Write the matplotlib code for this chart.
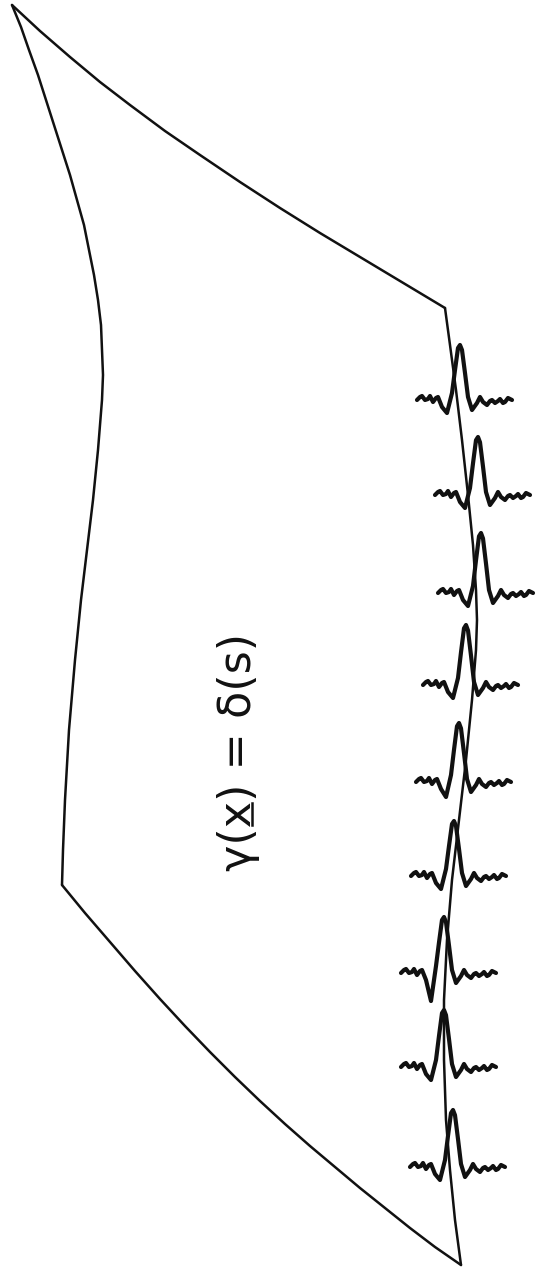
import matplotlib
matplotlib.use("Agg")
import matplotlib.pyplot as plt

# outline of the sheet in pixel coordinates (x right, y down)
top_x = [12, 40, 70, 100, 130, 165, 200, 240, 280, 320, 360, 400, 445]
top_y = [5, 31, 57, 82, 105, 131, 155, 182, 208, 233, 257, 281, 308]

left_x = [12, 21, 29, 38, 46, 54, 62, 70, 77, 84, 89, 94, 98, 101, 102, 103, 102, 98, 93, 87, 81, 75, 69, 65, 63, 62]
left_y = [5, 27, 50, 75, 100, 125, 150, 175, 200, 225, 250, 275, 300, 325, 350, 375, 400, 450, 500, 550, 600, 660, 730, 800, 850, 885]

right_x = [445, 450, 456, 462, 468, 473, 476, 477, 476, 472, 466, 459, 452, 447, 444, 444, 446, 450, 455, 461]
right_y = [308, 345, 390, 440, 495, 545, 590, 620, 650, 700, 760, 820, 880, 940, 1000, 1060, 1120, 1170, 1220, 1265]

bottom_x = [62, 85, 110, 135, 160, 185, 210, 235, 260, 285, 310, 335, 360, 385, 410, 435, 461]
bottom_y = [885, 913, 942, 971, 999, 1026, 1052, 1077, 1101, 1124, 1146, 1167, 1188, 1208, 1228, 1247, 1265]

# traces along the right edge: peak position, baseline and peak height
trace_peak_x = [459, 477, 480, 465, 458, 453, 443, 443, 452]
trace_base_y = [400, 495, 593, 685, 782, 876, 973, 1067, 1167]
trace_height = [55, 58, 60, 60, 59, 55, 56, 57, 57]
trace_trough = [0, 0, 0, 0, 2, 0, 15, 0, 0]

# wavelet shape (offsets from peak foot, peak = -55)
wave_dx = [-42, -39, -37, -34, -31, -29, -26, -23, -21, -17, -12, -7, -4, -1, 1, 3, 6, 9,
           13, 18, 21, 24, 28, 31, 33, 36, 39, 41, 44, 46, 49, 53]
wave_dy = [0, -3, -4, 0, -1, -4, 2, -2, -3, 7, 13, -7, -30, -52, -55, -50, -27, -3,
           10, 3, -3, 2, 5, 1, 0, 3, 1, -1, 3, 2, -2, 0]

label = "γ(x) = δ(s)"

fig = plt.figure(figsize=(5.37, 12.74), dpi=100)
ax = fig.add_axes([0, 0, 1, 1])
ax.set_xlim(0, 537)
ax.set_ylim(1274, 0)
ax.axis("off")

ink = "#111111"
for xs, ys in [(top_x, top_y), (left_x, left_y), (right_x, right_y), (bottom_x, bottom_y)]:
    ax.plot(xs, ys, color=ink, lw=1.8, solid_joinstyle="round", solid_capstyle="round")

for px, by, h, tr in zip(trace_peak_x, trace_base_y, trace_height, trace_trough):
    xs = [px + dx for dx in wave_dx]
    ys = []
    for dx, dy in zip(wave_dx, wave_dy):
        if dy < -15:
            dy = dy * h / 55.0
        elif -16 < dx < -6 and dy > 0:
            dy = dy + tr
        ys.append(by + dy)
    ax.plot(xs, ys, color=ink, lw=3.0, solid_joinstyle="round", solid_capstyle="round")

fs = 32
t = ax.text(238, 752, label, rotation=90, ha="center", va="center",
            fontsize=fs, family="DejaVu Sans", color=ink)

fig.canvas.draw()
r = fig.canvas.get_renderer()
bb = t.get_window_extent(r)


def text_width(s):
    tmp = ax.text(0, 0, s, fontsize=fs, family="DejaVu Sans")
    w = tmp.get_window_extent(r).width
    tmp.remove()
    return w


w0 = text_width("γ(")
w1 = text_width("γ(x")
H = 1274
ux = bb.x1 - fs * 1.389 * 0.17
ax.plot([ux, ux], [H - (bb.y0 + w0 + 2), H - (bb.y0 + w1 - 2)], color=ink, lw=1.8)

fig.savefig("out.png", dpi=100)
